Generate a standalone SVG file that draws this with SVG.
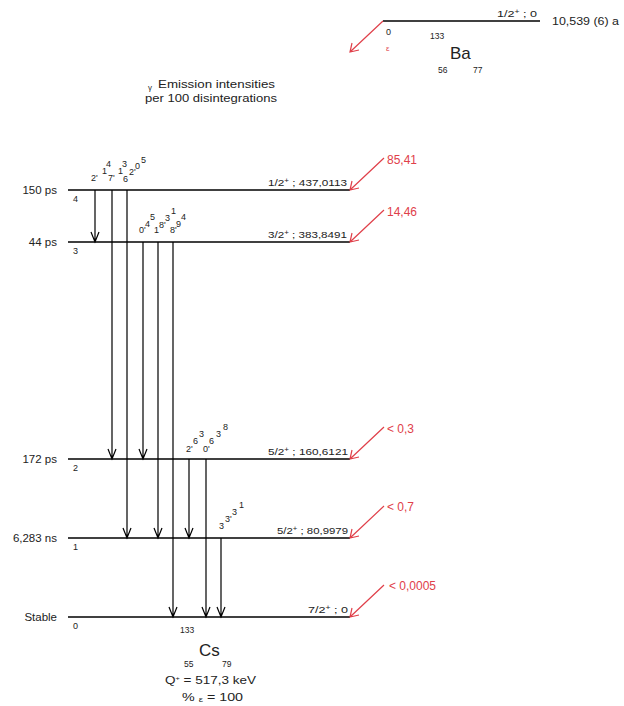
<svg xmlns="http://www.w3.org/2000/svg" width="624" height="706" viewBox="0 0 624 706">
<style>
text{font-family:"Liberation Sans",Arial,sans-serif;fill:#222}
.lvl{stroke:#000;stroke-width:1.6}
.g{stroke:#000;stroke-width:1.2;fill:none}
.r{stroke:#e0404a;stroke-width:1.2;fill:none}
.rt{fill:#e0404a;font-size:12px}
.lab{font-size:9.5px}
.life{font-size:11.5px;text-anchor:end}
.num{font-size:9px}
.sm{font-size:9px}
</style>
<rect width="624" height="706" fill="#fff"/>
<g id="parent-Ba133">
<line class="lvl" x1="383" y1="21" x2="540" y2="21"/>
<text class="lab" x="497" y="17" textLength="40" lengthAdjust="spacingAndGlyphs">1/2<tspan dy="-3" font-size="6.5">+</tspan><tspan dy="3"> ; 0</tspan></text>
<text x="552" y="25" font-size="11.5" textLength="67" lengthAdjust="spacingAndGlyphs">10,539 (6) a</text>
<text class="num" x="386" y="35">0</text>
<text x="386" y="51" font-size="8" style="fill:#e0404a">ε</text>
<text x="430" y="39" font-size="8.5">133</text>
<text x="450" y="59" font-size="17">Ba</text>
<text x="438" y="73" font-size="8.5">56</text>
<text x="473" y="73" font-size="8.5">77</text>
</g>
<g id="title">
<text x="148" y="90" font-size="8">γ</text>
<text x="158" y="88" font-size="10.5" textLength="117" lengthAdjust="spacingAndGlyphs">Emission intensities</text>
<text x="145" y="102" font-size="10.5" textLength="132" lengthAdjust="spacingAndGlyphs">per 100 disintegrations</text>
</g>
<g id="level4">
<line class="lvl" x1="68" y1="190" x2="350" y2="190"/>
<text class="life" x="57" y="194">150 ps</text>
<text class="num" x="73" y="202">4</text>
<text class="lab" x="268" y="186" textLength="79" lengthAdjust="spacingAndGlyphs">1/2<tspan dy="-3" font-size="6.5">+</tspan><tspan dy="3"> ; 437,0113</tspan></text>
</g>
<g id="level3">
<line class="lvl" x1="68" y1="242" x2="350" y2="242"/>
<text class="life" x="57" y="246">44 ps</text>
<text class="num" x="73" y="254">3</text>
<text class="lab" x="268" y="238" textLength="79" lengthAdjust="spacingAndGlyphs">3/2<tspan dy="-3" font-size="6.5">+</tspan><tspan dy="3"> ; 383,8491</tspan></text>
</g>
<g id="level2">
<line class="lvl" x1="68" y1="459" x2="350" y2="459"/>
<text class="life" x="57" y="463">172 ps</text>
<text class="num" x="73" y="471">2</text>
<text class="lab" x="268" y="455" textLength="80" lengthAdjust="spacingAndGlyphs">5/2<tspan dy="-3" font-size="6.5">+</tspan><tspan dy="3"> ; 160,6121</tspan></text>
</g>
<g id="level1">
<line class="lvl" x1="68" y1="538" x2="350" y2="538"/>
<text class="life" x="57" y="542">6,283 ns</text>
<text class="num" x="73" y="550">1</text>
<text class="lab" x="277" y="534" textLength="71" lengthAdjust="spacingAndGlyphs">5/2<tspan dy="-3" font-size="6.5">+</tspan><tspan dy="3"> ; 80,9979</tspan></text>
</g>
<g id="level0">
<line class="lvl" x1="68" y1="617" x2="350" y2="617"/>
<text class="life" x="57" y="621">Stable</text>
<text class="num" x="73" y="629">0</text>
<text class="lab" x="308" y="613" textLength="40" lengthAdjust="spacingAndGlyphs">7/2<tspan dy="-3" font-size="6.5">+</tspan><tspan dy="3"> ; 0</tspan></text>
</g>
<g id="daughter-Cs133">
<text x="180" y="633" font-size="8.5">133</text>
<text x="199" y="656" font-size="17">Cs</text>
<text x="184" y="667" font-size="8.5">55</text>
<text x="222" y="667" font-size="8.5">79</text>
<text x="165" y="684" font-size="11" textLength="91" lengthAdjust="spacingAndGlyphs">Q<tspan dy="-4" font-size="6">+</tspan><tspan dy="4"> = 517,3 keV</tspan></text>
<text x="182" y="701" font-size="11" textLength="61" lengthAdjust="spacingAndGlyphs">% <tspan font-size="7.5" dy="1">ε</tspan><tspan dy="-1"> = 100</tspan></text>
</g>
<g id="gamma-labels">
<text class="sm" x="91" y="181">2'</text>
<text class="sm" x="102" y="174">1</text><text class="sm" x="106" y="167">4</text>
<text class="sm" x="108" y="181">7'</text>
<text class="sm" x="118" y="174">1</text><text class="sm" x="122" y="167">3</text>
<text class="sm" x="123" y="182">6</text><text class="sm" x="129" y="175">2'</text>
<text class="sm" x="135" y="169">0</text><text class="sm" x="141" y="163">5</text>
<text class="sm" x="139" y="233">0'</text>
<text class="sm" x="145" y="227">4</text><text class="sm" x="150" y="220">5</text>
<text class="sm" x="154" y="233">1</text><text class="sm" x="159" y="228">8'</text>
<text class="sm" x="165" y="221">3</text><text class="sm" x="171" y="214">1</text>
<text class="sm" x="170" y="233">8'</text><text class="sm" x="176" y="227">9</text><text class="sm" x="181" y="220">4</text>
<text class="sm" x="186" y="452">2'</text>
<text class="sm" x="193" y="444">6</text><text class="sm" x="199" y="437">3</text>
<text class="sm" x="203" y="452">0'</text>
<text class="sm" x="209" y="444">6</text><text class="sm" x="216" y="437">3</text><text class="sm" x="223" y="430">8</text>
<text class="sm" x="219" y="529">3</text>
<text class="sm" x="225" y="522">3'</text>
<text class="sm" x="232" y="515">3</text>
<text class="sm" x="239" y="508">1</text>
</g>
<g id="connectors">
<g id="gammas" class="g">
<path d="M95 190V242M91 232L95 242L99 232"/>
<path d="M112 190V459M108 449L112 459L116 449"/>
<path d="M127 190V538M123 528L127 538L131 528"/>
<path d="M143 242V459M139 449L143 459L147 449"/>
<path d="M158 242V538M154 528L158 538L162 528"/>
<path d="M173 242V617M169 607L173 617L177 607"/>
<path d="M189 459V538M185 528L189 538L193 528"/>
<path d="M206 459V617M202 607L206 617L210 607"/>
<path d="M221 538V617M217 607L221 617L225 607"/>
</g>
<g id="feeding" class="r">
<path d="M383 21L350 52M352 43L350 52L359 50"/>
<path d="M384 158L350 190M352 181L350 190L359 188"/>
<path d="M384 210L350 242M352 233L350 242L359 240"/>
<path d="M384 427L350 459M352 450L350 459L359 457"/>
<path d="M384 506L350 538M352 529L350 538L359 536"/>
<path d="M384 585L350 617M352 608L350 617L359 615"/>
</g>
</g>
<g id="feeding-labels">
<text class="rt" x="387" y="164">85,41</text>
<text class="rt" x="387" y="216">14,46</text>
<text class="rt" x="387" y="433">&lt; 0,3</text>
<text class="rt" x="387" y="511">&lt; 0,7</text>
<text class="rt" x="389" y="590">&lt; 0,0005</text>
</g>
</svg>
